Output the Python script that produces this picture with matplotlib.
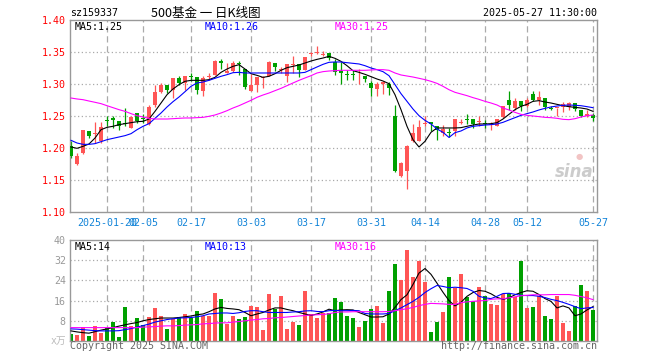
import matplotlib
matplotlib.use("Agg")
import matplotlib.pyplot as plt
import numpy as np
import pandas as pd

W, H = 660, 360
RED = "#ff5555"
GREEN = "#00a000"
GRID = "#aaaaaa"
MONO = "DejaVu Sans Mono"

# trading days shown (SZ exchange, holidays skipped)
holidays = ["2025-01-28", "2025-01-29", "2025-01-30", "2025-01-31", "2025-02-03",
            "2025-02-04", "2025-04-04", "2025-05-01", "2025-05-02", "2025-05-05"]
dates = pd.bdate_range("2025-01-10", "2025-05-27", freq="C", holidays=holidays)

tick_dates = ["2025-01-20", "2025-02-05", "2025-02-17", "2025-03-03", "2025-03-17",
              "2025-03-31", "2025-04-14", "2025-04-28", "2025-05-12", "2025-05-27"]
tick_labels = ["2025-01-20", "02-05", "02-17", "03-03", "03-17",
               "03-31", "04-14", "04-28", "05-12", "05-27"]

open_ = [1.2036, 1.1755, 1.1920, 1.2270, 1.2225, 1.2104, 1.2427, 1.2464, 1.2427, 1.2385,
         1.2313, 1.2547, 1.2464, 1.2380, 1.2677, 1.2880, 1.2990, 1.2900, 1.3094, 1.3016,
         1.3125, 1.3110, 1.2885, 1.3115, 1.3146, 1.3365, 1.3167, 1.3198, 1.3328, 1.3240,
         1.2896, 1.2990, 1.3099, 1.3130, 1.3328, 1.3219, 1.3120, 1.3302, 1.3313, 1.3224,
         1.3467, 1.3483, 1.3457, 1.3484, 1.3339, 1.3203, 1.3138, 1.3138, 1.3133, 1.3130,
         1.3016, 1.2927, 1.3000, 1.3000, 1.2505, 1.1557, 1.1635, 1.2104, 1.2115, 1.2370,
         1.2406, 1.2338, 1.2234, 1.2245, 1.2260, 1.2385, 1.2437, 1.2453, 1.2401, 1.2377,
         1.2357, 1.2349, 1.2484, 1.2755, 1.2625, 1.2740, 1.2661, 1.2844, 1.2755, 1.2780,
         1.2617, 1.2622, 1.2641, 1.2641, 1.2703, 1.2599, 1.2505, 1.2521]
high = [1.2115, 1.1920, 1.2286, 1.2270, 1.2410, 1.2400, 1.2505, 1.2505, 1.2427, 1.2630,
        1.2505, 1.2547, 1.2530, 1.2677, 1.2990, 1.3016, 1.2990, 1.3094, 1.3130, 1.3130,
        1.3170, 1.3110, 1.3120, 1.3170, 1.3380, 1.3396, 1.3330, 1.3354, 1.3365, 1.3240,
        1.3156, 1.3104, 1.3130, 1.3354, 1.3328, 1.3260, 1.3318, 1.3443, 1.3313, 1.3422,
        1.3495, 1.3599, 1.3520, 1.3484, 1.3390, 1.3339, 1.3213, 1.3213, 1.3234, 1.3130,
        1.3042, 1.3031, 1.3042, 1.3031, 1.2677, 1.1776, 1.2052, 1.2380, 1.2443, 1.2495,
        1.2406, 1.2338, 1.2365, 1.2307, 1.2453, 1.2458, 1.2536, 1.2453, 1.2495, 1.2432,
        1.2411, 1.2453, 1.2661, 1.2896, 1.2780, 1.2740, 1.2780, 1.2885, 1.2885, 1.2780,
        1.2661, 1.2625, 1.2714, 1.2714, 1.2703, 1.2599, 1.2599, 1.2547]
low = [1.1840, 1.1740, 1.1910, 1.2150, 1.2080, 1.2080, 1.2350, 1.2313, 1.2276, 1.2338,
       1.2313, 1.2390, 1.2390, 1.2354, 1.2640, 1.2864, 1.2864, 1.2780, 1.2990, 1.2910,
       1.3040, 1.2844, 1.2807, 1.3068, 1.3146, 1.3234, 1.3167, 1.3182, 1.3146, 1.2927,
       1.2885, 1.2875, 1.2938, 1.3130, 1.3198, 1.3170, 1.3026, 1.3172, 1.3110, 1.3224,
       1.3440, 1.3469, 1.3432, 1.3380, 1.3146, 1.3000, 1.3057, 1.3057, 1.3000, 1.3026,
       1.2807, 1.2818, 1.2844, 1.2833, 1.1620, 1.1542, 1.1359, 1.2089, 1.2104, 1.2338,
       1.2260, 1.2120, 1.2193, 1.2170, 1.2193, 1.2375, 1.2375, 1.2307, 1.2338, 1.2307,
       1.2276, 1.2338, 1.2463, 1.2599, 1.2599, 1.2573, 1.2640, 1.2730, 1.2677, 1.2589,
       1.2589, 1.2505, 1.2557, 1.2599, 1.2573, 1.2484, 1.2484, 1.2427]
close = [1.1880, 1.1880, 1.2286, 1.2193, 1.2235, 1.2328, 1.2417, 1.2433, 1.2350, 1.2375,
         1.2484, 1.2417, 1.2453, 1.2640, 1.2880, 1.2990, 1.2911, 1.3094, 1.3016, 1.3130,
         1.3115, 1.2910, 1.3094, 1.3120, 1.3365, 1.3330, 1.3198, 1.3328, 1.3318, 1.2953,
         1.2990, 1.3104, 1.3104, 1.3344, 1.3266, 1.3224, 1.3318, 1.3307, 1.3224, 1.3422,
         1.3470, 1.3486, 1.3460, 1.3406, 1.3182, 1.3167, 1.3135, 1.3135, 1.3138, 1.3078,
         1.2937, 1.3000, 1.3026, 1.2937, 1.1635, 1.1766, 1.2026, 1.2234, 1.2328, 1.2375,
         1.2375, 1.2286, 1.2297, 1.2234, 1.2453, 1.2390, 1.2432, 1.2375, 1.2406, 1.2372,
         1.2360, 1.2453, 1.2661, 1.2677, 1.2740, 1.2661, 1.2755, 1.2755, 1.2792, 1.2640,
         1.2614, 1.2625, 1.2693, 1.2703, 1.2609, 1.2505, 1.2536, 1.2469]

ma5 = [1.2016, 1.1995, 1.2026, 1.2063, 1.2156, 1.2286, 1.2323, 1.2339, 1.2365, 1.2380,
       1.2396, 1.2411, 1.2417, 1.2453, 1.2573, 1.2703, 1.2833, 1.2922, 1.2990, 1.3042,
       1.3057, 1.3057, 1.3057, 1.3068, 1.3104, 1.3182, 1.3234, 1.3276, 1.3302, 1.3234,
       1.3161, 1.3135, 1.3104, 1.3120, 1.3161, 1.3214, 1.3255, 1.3276, 1.3297, 1.3328,
       1.3359, 1.3385, 1.3406, 1.3432, 1.3401, 1.3354, 1.3286, 1.3208, 1.3182, 1.3151,
       1.3115, 1.3078, 1.3047, 1.3005, 1.2833, 1.2599, 1.2339, 1.2130, 1.2016, 1.2104,
       1.2245, 1.2313, 1.2313, 1.2313, 1.2313, 1.2318, 1.2339, 1.2359, 1.2375, 1.2375,
       1.2380, 1.2396, 1.2453, 1.2526, 1.2599, 1.2651, 1.2682, 1.2729, 1.2740, 1.2719,
       1.2703, 1.2682, 1.2661, 1.2646, 1.2635, 1.2625, 1.2609, 1.2573]
ma10 = [1.2120, 1.2078, 1.2057, 1.2057, 1.2068, 1.2099, 1.2130, 1.2151, 1.2172, 1.2193,
        1.2224, 1.2286, 1.2339, 1.2380, 1.2464, 1.2547, 1.2641, 1.2724, 1.2797, 1.2880,
        1.2964, 1.3016, 1.3031, 1.3057, 1.3089, 1.3120, 1.3146, 1.3177, 1.3182, 1.3172,
        1.3172, 1.3172, 1.3172, 1.3172, 1.3172, 1.3172, 1.3172, 1.3172, 1.3172, 1.3182,
        1.3224, 1.3266, 1.3307, 1.3339, 1.3344, 1.3344, 1.3333, 1.3323, 1.3313, 1.3286,
        1.3250, 1.3224, 1.3193, 1.3130, 1.2990, 1.2849, 1.2729, 1.2609, 1.2505, 1.2432,
        1.2375, 1.2297, 1.2245, 1.2165, 1.2240, 1.2266, 1.2313, 1.2339, 1.2349, 1.2359,
        1.2365, 1.2375, 1.2401, 1.2438, 1.2474, 1.2510, 1.2537, 1.2563, 1.2594, 1.2620,
        1.2641, 1.2656, 1.2667, 1.2672, 1.2667, 1.2661, 1.2646, 1.2630]
ma30 = [1.2781, 1.2766, 1.2755, 1.2734, 1.2714, 1.2693, 1.2661, 1.2630, 1.2599, 1.2573,
        1.2537, 1.2505, 1.2484, 1.2464, 1.2453, 1.2453, 1.2453, 1.2458, 1.2464, 1.2469,
        1.2469, 1.2474, 1.2479, 1.2495, 1.2516, 1.2547, 1.2583, 1.2625, 1.2661, 1.2703,
        1.2745, 1.2792, 1.2828, 1.2859, 1.2896, 1.2932, 1.2974, 1.3016, 1.3057, 1.3094,
        1.3130, 1.3172, 1.3193, 1.3203, 1.3208, 1.3214, 1.3214, 1.3214, 1.3214, 1.3214,
        1.3219, 1.3224, 1.3224, 1.3214, 1.3172, 1.3141, 1.3125, 1.3109, 1.3089, 1.3068,
        1.3042, 1.3010, 1.2964, 1.2911, 1.2870, 1.2844, 1.2818, 1.2787, 1.2760, 1.2729,
        1.2703, 1.2672, 1.2625, 1.2594, 1.2557, 1.2526, 1.2510, 1.2500, 1.2490, 1.2479,
        1.2474, 1.2464, 1.2448, 1.2443, 1.2458, 1.2484, 1.2505, 1.2516]

# volume, 10k shares (万)
volume = [2.9, 2.4, 5.6, 2.0, 6.0, 3.2, 5.3, 7.7, 1.6, 13.3,
          5.9, 9.2, 6.5, 9.6, 13.2, 10.0, 4.8, 8.9, 9.6, 10.8,
          9.3, 11.7, 10.0, 10.0, 19.2, 16.8, 6.8, 10.0, 8.8, 9.6,
          14.0, 13.6, 4.4, 18.8, 12.7, 18.0, 4.9, 7.6, 6.4, 19.7,
          10.7, 9.3, 10.9, 11.1, 16.9, 15.3, 10.0, 9.2, 5.7, 8.0,
          12.8, 13.7, 7.2, 19.7, 30.5, 24.1, 36.1, 25.3, 31.7, 23.3,
          3.7, 7.7, 11.3, 25.2, 21.1, 26.5, 17.3, 15.9, 21.2, 18.0,
          14.8, 14.4, 18.7, 19.2, 17.6, 31.6, 12.9, 13.6, 18.0, 10.0,
          8.8, 18.0, 7.2, 4.0, 13.7, 22.0, 19.7, 12.1]
vma5 = [4.0, 3.6, 3.3, 3.1, 3.7, 4.3, 4.8, 5.3, 5.9, 6.4,
        6.9, 7.3, 8.0, 8.5, 8.8, 9.1, 9.1, 9.1, 9.3, 9.6,
        9.9, 10.4, 10.7, 11.6, 12.7, 13.3, 12.9, 12.7, 12.4, 11.3,
        10.0, 10.7, 11.3, 12.3, 13.1, 13.1, 12.5, 12.0, 11.3, 10.7,
        10.1, 10.7, 11.5, 12.6, 12.0, 12.3, 12.4, 12.3, 11.3, 10.4,
        9.5, 9.5, 9.6, 10.7, 13.3, 16.4, 18.3, 22.4, 26.9, 28.7,
        26.4, 22.9, 19.3, 16.0, 13.9, 15.3, 17.7, 19.2, 20.0, 19.7,
        18.7, 17.3, 16.5, 17.1, 18.3, 19.2, 19.9, 19.7, 18.4, 16.8,
        15.7, 13.1, 13.9, 13.1, 10.0, 10.7, 12.3, 13.6]
vma10 = [4.8, 4.7, 4.5, 4.3, 4.1, 4.0, 4.0, 4.0, 4.1, 4.5,
         4.9, 5.5, 6.1, 6.7, 7.5, 8.0, 8.5, 8.8, 9.1, 9.2,
         9.3, 9.6, 10.0, 10.7, 10.9, 11.1, 11.1, 10.9, 11.2, 11.7,
         12.0, 12.0, 11.6, 11.3, 11.3, 11.3, 11.3, 11.5, 11.6, 11.9,
         12.0, 11.7, 11.6, 12.0, 12.1, 12.0, 12.0, 12.1, 12.0, 10.9,
         10.7, 10.7, 10.7, 10.9, 12.0, 13.1, 14.4, 15.7, 17.3, 19.2,
         20.7, 22.0, 21.6, 21.1, 21.3, 21.1, 20.8, 19.7, 17.7, 17.1,
         16.8, 17.7, 18.8, 18.9, 18.5, 18.1, 18.0, 18.0, 17.7, 17.2,
         16.5, 16.0, 15.3, 14.5, 13.6, 12.8, 13.1, 13.3]
vma30 = [5.3, 5.3, 5.3, 5.3, 5.3, 5.3, 5.3, 5.3, 5.3, 5.3,
         5.3, 5.3, 5.5, 5.6, 5.7, 5.9, 6.0, 6.0, 6.1, 6.3,
         6.4, 6.5, 6.8, 6.9, 7.1, 7.2, 7.2, 7.5, 7.7, 8.0,
         8.3, 8.5, 8.8, 8.9, 9.2, 9.3, 9.5, 9.7, 9.9, 10.1,
         10.3, 10.4, 10.5, 10.8, 11.3, 11.5, 11.5, 11.6, 11.6, 11.6,
         11.6, 11.6, 11.6, 11.7, 12.0, 12.4, 12.8, 13.3, 14.0, 14.5,
         14.9, 14.8, 14.7, 14.5, 14.5, 15.2, 15.5, 15.7, 15.9, 16.0,
         16.5, 16.7, 16.7, 17.1, 17.5, 17.9, 18.1, 18.3, 18.3, 18.3,
         18.4, 18.4, 18.4, 18.4, 18.1, 17.6, 17.1, 16.4]

price_ticks = [1.10, 1.15, 1.20, 1.25, 1.30, 1.35, 1.40]
vol_ticks = [8, 16, 24, 32, 40]


def fx(x):
    return x / W


def fy(y):
    return 1 - y / H


x = np.arange(len(dates))
o, h, l, c = map(np.array, (open_, high, low, close))
colors = np.where(c >= o, RED, GREEN)
tick_pos = [dates.get_loc(pd.Timestamp(d)) for d in tick_dates]

fig = plt.figure(figsize=(W / 100, H / 100), dpi=100)
fig.patch.set_facecolor("white")

ax = fig.add_axes([fx(70), fy(212), fx(527), 192 / H])
axv = fig.add_axes([fx(70), fy(341), fx(527), 101 / H])

for a in (ax, axv):
    a.set_xlim(-0.17, len(dates) - 0.33)
    for s in a.spines.values():
        s.set_color("#999999")
        s.set_linewidth(1.0)
    a.tick_params(length=0)
    for p in tick_pos:
        a.axvline(p, color=GRID, lw=0.9, ls=(0, (5, 3)), zorder=0)

# price panel
ax.set_ylim(1.10, 1.40)
ax.set_yticks(price_ticks)
ax.set_yticklabels([f"{t:.2f}" for t in price_ticks], color="red",
                   fontsize=7.2, family=MONO)
for t in price_ticks[1:-1]:
    ax.axhline(t, color=GRID, lw=0.9, ls=(0, (1, 2)), zorder=0)
ax.set_xticks(tick_pos)
ax.set_xticklabels(tick_labels, color="#1284d8", fontsize=7.2, family=MONO)
ax.tick_params(axis="x", pad=4)
ax.tick_params(axis="y", pad=3)

ax.vlines(x, l, h, colors=colors, lw=0.9, zorder=2)
ax.bar(x, np.maximum(np.abs(c - o), 0.0014), bottom=np.minimum(o, c),
       width=0.78, color=colors, linewidth=0, zorder=3)
ax.plot(x, ma5, color="black", lw=0.8, zorder=4)
ax.plot(x, ma10, color="blue", lw=0.8, zorder=4)
ax.plot(x, ma30, color="magenta", lw=0.8, zorder=4)

# volume panel
axv.set_ylim(0, 40)
axv.set_yticks(vol_ticks)
axv.set_yticklabels([str(t) for t in vol_ticks], color="#999999",
                    fontsize=7.2, family=MONO)
axv.tick_params(axis="y", pad=3)
axv.set_xticks([])
for t in vol_ticks[:-1]:
    axv.axhline(t, color=GRID, lw=0.9, ls=(0, (1, 2)), zorder=0)
axv.bar(x, volume, width=0.82, color=colors, linewidth=0, zorder=2)
axv.plot(x, vma5, color="black", lw=0.8, zorder=4)
axv.plot(x, vma10, color="blue", lw=0.8, zorder=4)
axv.plot(x, vma30, color="magenta", lw=0.8, zorder=4)

# header / labels
fig.text(fx(70), fy(13), "sz159337", fontsize=7.2, family=MONO, va="center")
fig.text(fx(151), fy(13), "500基金 一 日K线图", fontsize=9,
         family=["Noto Sans CJK SC", "DejaVu Sans"], va="center")
fig.text(fx(597), fy(13), "2025-05-27 11:30:00", fontsize=7.2, family=MONO,
         va="center", ha="right")

fig.text(fx(75), fy(27), "MA5:1.25", fontsize=7.2, family=MONO, va="center", color="black")
fig.text(fx(205), fy(27), "MA10:1.26", fontsize=7.2, family=MONO, va="center", color="blue")
fig.text(fx(335), fy(27), "MA30:1.25", fontsize=7.2, family=MONO, va="center", color="magenta")

fig.text(fx(75), fy(247), "MA5:14", fontsize=7.2, family=MONO, va="center", color="black")
fig.text(fx(205), fy(247), "MA10:13", fontsize=7.2, family=MONO, va="center", color="blue")
fig.text(fx(335), fy(247), "MA30:16", fontsize=7.2, family=MONO, va="center", color="magenta")

fig.text(fx(66), fy(341), "x万", fontsize=7, color="#bbbbbb", ha="right", va="center",
         family=[MONO, "Noto Sans CJK SC"])
fig.text(fx(70), fy(346), "Copyright 2025 SINA.COM", fontsize=7.2, family=MONO,
         color="#666666", va="center")
fig.text(fx(597), fy(346), "http://finance.sina.com.cn", fontsize=7.2, family=MONO,
         color="#666666", va="center", ha="right")

# watermark
fig.text(fx(574), fy(172), "sina", fontsize=12, fontweight="bold", style="italic",
         color="#cccccc", ha="center", va="center")
fig.text(fx(579), fy(157), "●", fontsize=6, color="#f2c4c4", ha="center", va="center")

fig.savefig("out.png", dpi=100, facecolor="white")
